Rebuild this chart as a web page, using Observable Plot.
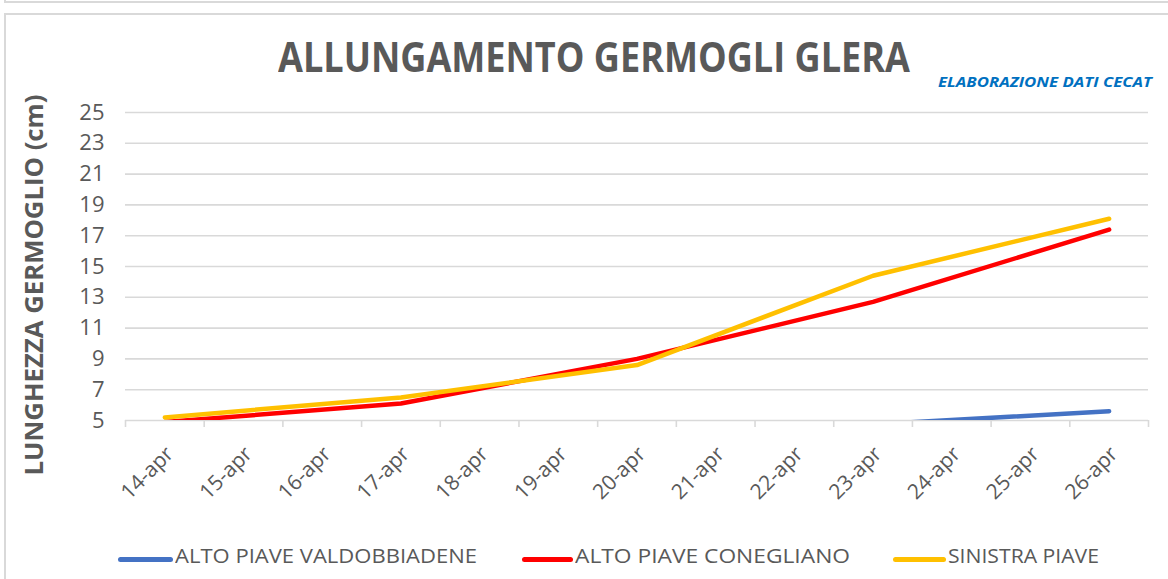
<!DOCTYPE html>
<html>
<head>
<meta charset="utf-8">
<script src="https://cdn.jsdelivr.net/npm/d3@7"></script>
<script src="https://cdn.jsdelivr.net/npm/@observablehq/plot@0.6"></script>
<style>
  html, body { margin: 0; padding: 0; background: #fff; }
  body { width: 1168px; height: 579px; overflow: hidden; position: relative; font-family: "Open Sans", sans-serif; color: #595959; }
  .abs { position: absolute; white-space: nowrap; line-height: 1; }
  #topstrip { position: absolute; left: 4px; top: -10px; width: 1200px; height: 11px; border-left: 2px solid #d9d9d9; border-bottom: 2px solid #d9d9d9; }
  #box { position: absolute; left: 4px; top: 13px; width: 1200px; height: 600px; border: 2px solid #d9d9d9; }
  #title { font-weight: 700; font-size: 42px; color: #595959; transform-origin: left top; }
  #subtitle { font-weight: 700; font-style: italic; font-size: 15px; color: #0070C0; transform-origin: left top; }
  #ylabel { font-weight: 700; font-size: 25px; color: #595959; }
  #chart { position: absolute; left: 0; top: 90px; }
  .legtext { font-size: 20px; color: #595959; transform-origin: left top; }
  .legsw { position: absolute; height: 5px; border-radius: 3px; }
</style>
</head>
<body>
<div id="topstrip"></div>
<div id="box"></div>
<div id="title" class="abs">ALLUNGAMENTO GERMOGLI GLERA</div>
<div id="subtitle" class="abs">ELABORAZIONE DATI CECAT</div>
<div id="ylabel" class="abs">LUNGHEZZA GERMOGLIO (cm)</div>
<div id="chart"></div>
<div id="legend"></div>
<script>
// ---------- data ----------
const categories = ["14-apr","15-apr","16-apr","17-apr","18-apr","19-apr","20-apr","21-apr","22-apr","23-apr","24-apr","25-apr","26-apr"];
const seriesNames = ["ALTO PIAVE VALDOBBIADENE", "ALTO PIAVE CONEGLIANO", "SINISTRA PIAVE"];
const seriesColors = ["#4472C4", "#FF0000", "#FFC000"];
// measurements every three days (other days: no reading)
const valdobbiadene = [1.5, null, null, 2.2, null, null, 3.4, null, null, 4.75, null, null, 5.6];
const conegliano    = [4.9, null, null, 6.1, null, null, 9.0, null, null, 12.7, null, null, 17.4];
const sinistraPiave = [5.2, null, null, 6.5, null, null, 8.6, null, null, 14.4, null, null, 18.1];
const yTicks = [5, 7, 9, 11, 13, 15, 17, 19, 21, 23, 25];

const seriesValues = [valdobbiadene, conegliano, sinistraPiave];
const rows = [];
seriesValues.forEach((vals, s) => vals.forEach((v, i) => {
  if (v != null) rows.push({series: seriesNames[s], i, v});
}));

// ---------- layout helpers ----------
function place(el, left, top, width) {
  el.style.left = left + "px";
  el.style.top = top + "px";
  const w = el.getBoundingClientRect().width;
  el.style.transform = `scaleX(${width / w})`;
}
place(document.getElementById("title"), 278, 35, 632);
place(document.getElementById("subtitle"), 938, 74, 214);
{
  const el = document.getElementById("ylabel");
  const w = el.getBoundingClientRect().width;
  el.style.left = "33px";
  el.style.top = "285px";
  el.style.transform = `translate(-50%,-50%) rotate(-90deg) scaleX(${381 / w})`;
}

// ---------- chart ----------
const n = categories.length;
const chart = Plot.plot({
  width: 1168,
  height: 440,
  marginLeft: 125,
  marginRight: 20,
  marginTop: 22,
  marginBottom: 110,
  style: {background: "transparent", overflow: "visible", fontFamily: "Open Sans, sans-serif"},
  x: {domain: [0, n], axis: null},
  y: {domain: [5, 25], axis: null},
  color: {domain: seriesNames, range: seriesColors},
  marks: [
    Plot.gridY(yTicks, {stroke: "#d9d9d9", strokeOpacity: 1, strokeWidth: 1.6}),
    Plot.axisX({ticks: d3.range(n + 1), tickFormat: () => "", tickSize: 7, stroke: "#d9d9d9", strokeWidth: 1.6, label: null}),
    Plot.axisY({ticks: yTicks, tickSize: 0, tickPadding: 21, fontSize: 22, color: "#595959", label: null}),
    Plot.text(categories, {
      x: (d, i) => i + 0.5, frameAnchor: "bottom", text: d => d,
      rotate: -45, textAnchor: "end", lineAnchor: "middle",
      dx: 5, dy: 30, fontSize: 21, fill: "#595959"
    }),
    Plot.line(rows, {
      x: d => d.i + 0.5, y: "v", z: "series", stroke: "series",
      strokeWidth: 4.5, curve: "linear", clip: true,
      strokeLinecap: "round", strokeLinejoin: "round"
    })
  ]
});
document.getElementById("chart").appendChild(chart);

// ---------- legend ----------
const legendLayout = [
  {x: 118, sw: 55, tw: 302},
  {x: 522, sw: 51, tw: 275},
  {x: 893, sw: 53, tw: 151}
];
const legend = document.getElementById("legend");
seriesNames.forEach((name, k) => {
  const L = legendLayout[k];
  const sw = document.createElement("div");
  sw.className = "legsw";
  sw.style.left = L.x + "px";
  sw.style.top = "557px";
  sw.style.width = L.sw + "px";
  sw.style.background = seriesColors[k];
  legend.appendChild(sw);
  const t = document.createElement("div");
  t.className = "abs legtext";
  t.textContent = name;
  legend.appendChild(t);
  place(t, L.x + L.sw + 2, 546, L.tw);
});
</script>
</body>
</html>
